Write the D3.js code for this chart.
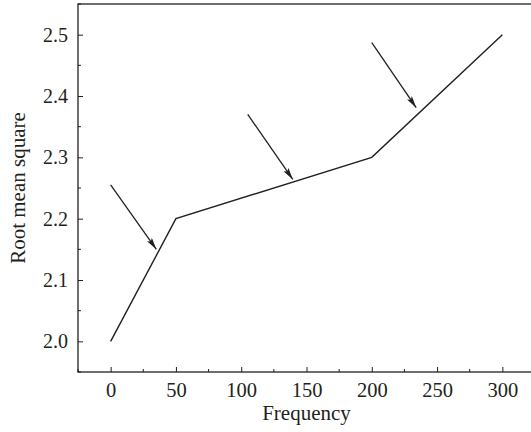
<!DOCTYPE html>
<html>
<head>
<meta charset="utf-8">
<script src="https://cdn.jsdelivr.net/npm/d3@7"></script>
<style>
  body { margin: 0; background: #fff; }
  svg { display: block; }
  text { font-family: "Liberation Serif", "Times New Roman", serif; fill: #231f20; }
</style>
</head>
<body>
<div id="chart"></div>
<script>
// data
const frequency = [0, 50, 200, 300];
const rms = [2.0, 2.2, 2.3, 2.5];

const xTicks = [0, 50, 100, 150, 200, 250, 300];
const yTicks = [2.0, 2.1, 2.2, 2.3, 2.4, 2.5];

// annotation arrows: start point -> tip point (data units)
const arrowFromX = [0, 105, 200];
const arrowFromY = [2.255, 2.37, 2.487];
const arrowToX = [35, 139.5, 234];
const arrowToY = [2.15, 2.264, 2.381];

let width = 531,
    height = 432,
    margin = {top: 4, right: -4, bottom: 60, left: 78};

const svg = d3.select("#chart").append("svg")
    .attr("width", width)
    .attr("height", height);

const x = d3.scaleLinear()
    .domain([-25, 325])
    .range([margin.left, width - margin.right]);

const y = d3.scaleLinear()
    .domain([1.95, 2.55])
    .range([height - margin.bottom, margin.top]);

const defs = svg.append("defs");
defs.append("marker")
    .attr("id", "arrow")
    .attr("viewBox", "0 0 12 6")
    .attr("refX", 12)
    .attr("refY", 3)
    .attr("markerWidth", 12)
    .attr("markerHeight", 6)
    .attr("markerUnits", "userSpaceOnUse")
    .attr("orient", "auto")
    .append("path")
    .attr("d", "M0,0 L12,3 L0,6 L2.5,3 Z")
    .attr("fill", "#231f20");

// frame
svg.append("rect")
    .attr("x", x.range()[0])
    .attr("y", y.range()[1])
    .attr("width", x.range()[1] - x.range()[0])
    .attr("height", y.range()[0] - y.range()[1])
    .attr("fill", "none")
    .attr("stroke", "#231f20")
    .attr("stroke-width", 1.3);

// x axis, ticks pointing inward
const xAxis = svg.append("g")
    .attr("transform", "translate(0," + y.range()[0] + ")");

xAxis.selectAll("line.minor")
    .data(d3.range(-25, 326, 25).filter(d => d % 50 !== 0))
    .enter().append("line")
    .attr("x1", d => x(d)).attr("x2", d => x(d))
    .attr("y1", 0).attr("y2", -3)
    .attr("stroke", "#231f20");

xAxis.call(d3.axisBottom(x).tickValues(xTicks).tickSize(-5).tickPadding(10).tickFormat(d3.format("d")))
    .call(g => g.select(".domain").remove())
    .call(g => g.selectAll(".tick line").attr("stroke", "#231f20"))
    .call(g => g.selectAll(".tick text").style("font-size", "20.5px").attr("font-family", null));

// y axis, ticks pointing inward
const yAxis = svg.append("g")
    .attr("transform", "translate(" + x.range()[0] + ",0)");

yAxis.selectAll("line.minor")
    .data(d3.range(1.95, 2.56, 0.1))
    .enter().append("line")
    .attr("y1", d => y(d)).attr("y2", d => y(d))
    .attr("x1", 0).attr("x2", 3)
    .attr("stroke", "#231f20");

yAxis.call(d3.axisLeft(y).tickValues(yTicks).tickSize(-5).tickPadding(10).tickFormat(d3.format(".1f")))
    .call(g => g.select(".domain").remove())
    .call(g => g.selectAll(".tick line").attr("stroke", "#231f20"))
    .call(g => g.selectAll(".tick text").style("font-size", "20px").attr("font-family", null));

// axis titles
svg.append("text")
    .attr("x", (margin.left + 535) / 2)
    .attr("y", 420)
    .attr("text-anchor", "middle")
    .style("font-size", "21px")
    .text("Frequency");

svg.append("text")
    .attr("transform", "translate(25," + (y.range()[0] + y.range()[1]) / 2 + ") rotate(-90)")
    .attr("text-anchor", "middle")
    .style("font-size", "21px")
    .text("Root mean square");

// data line
const line = d3.line()
    .x((d, i) => x(frequency[i]))
    .y(d => y(d));

svg.append("path")
    .datum(rms)
    .attr("d", line)
    .attr("fill", "none")
    .attr("stroke", "#231f20")
    .attr("stroke-width", 1.4);

// arrows
svg.append("g").selectAll("line")
    .data(arrowFromX)
    .enter().append("line")
    .attr("x1", (d, i) => x(arrowFromX[i]))
    .attr("y1", (d, i) => y(arrowFromY[i]))
    .attr("x2", (d, i) => x(arrowToX[i]))
    .attr("y2", (d, i) => y(arrowToY[i]))
    .attr("stroke", "#231f20")
    .attr("stroke-width", 1.3)
    .attr("marker-end", "url(#arrow)");
</script>
</body>
</html>
